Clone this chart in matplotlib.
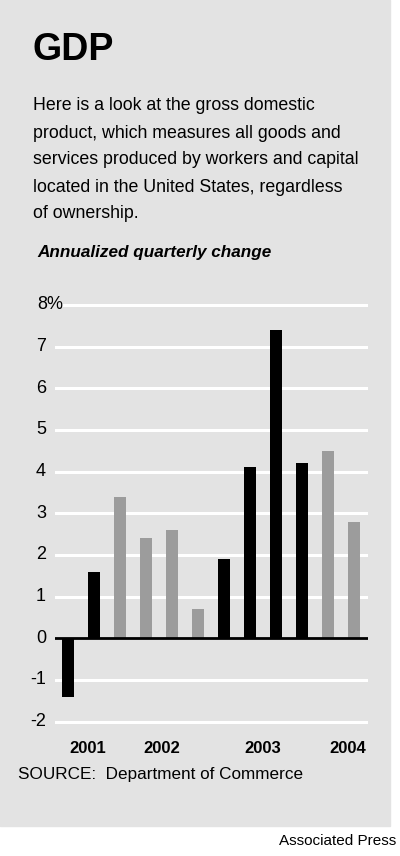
import matplotlib
matplotlib.use("Agg")
import matplotlib.pyplot as plt
import matplotlib.transforms as mtransforms
from matplotlib.patches import Rectangle

# quarterly GDP change, 2001 Q1 .. 2004 Q2
quarters = ["01Q1", "01Q2", "01Q3", "01Q4", "02Q1", "02Q2", "02Q3", "02Q4",
            "03Q1", "03Q2", "03Q3", "03Q4"]
change = [-1.4, 1.6, 3.4, 2.4, 2.6, 0.7, 1.9, 4.1, 7.4, 4.2, 4.5, 2.8]
shade = ["k", "k", "g", "g", "g", "g", "k", "k", "k", "k", "g", "g"]
year_labels = ["2001", "2002", "2003", "2004"]
year_pos = [0.77, 3.6, 7.5, 10.75]
yticks = [-2, -1, 0, 1, 2, 3, 4, 5, 6, 7, 8]

FONT = ["Liberation Sans", "DejaVu Sans"]
PANEL = "#e3e3e3"
GRAY_BAR = "#9c9c9c"

W, H = 400, 856
fig = plt.figure(figsize=(W / 100, H / 100), dpi=100)
fig.patch.set_facecolor("white")

# gray panel behind everything
fig.patches.append(Rectangle((0, 1 - 826 / H), 390 / W, 826 / H,
                             transform=fig.transFigure, color=PANEL, zorder=-5))

def px(x, y):
    return x / W, 1 - y / H

# header text
fig.text(*px(32, 50), "GDP", fontsize=27, fontweight="bold", family=FONT,
         va="center", ha="left")
desc = ["Here is a look at the gross domestic",
        "product, which measures all goods and",
        "services produced by workers and capital",
        "located in the United States, regardless",
        "of ownership."]
for i, line in enumerate(desc):
    fig.text(*px(33, 106 + 27 * i), line, fontsize=12.8, family=FONT,
             va="center", ha="left")
fig.text(*px(37, 253), "Annualized quarterly change", fontsize=12.3,
         fontweight="bold", fontstyle="italic", family=FONT,
         va="center", ha="left")

# chart area
ymin, ymax = -2.2, 8.2
zero_px, unit_px = 638.3, 41.67
top_px = zero_px - ymax * unit_px
bot_px = zero_px - ymin * unit_px
x0, x1 = 55, 368
ax = fig.add_axes([x0 / W, 1 - bot_px / H, (x1 - x0) / W, (bot_px - top_px) / H])
ax.patch.set_alpha(0)
ax.set_xlim(-0.5, (x1 - 68) / 26)
ax.set_ylim(ymin, ymax)
for s in ax.spines.values():
    s.set_visible(False)
ax.set_xticks([])
ax.set_yticks([])

for v in yticks:
    if v == 8:
        # top line starts after the "8%" label
        ax.axhline(v, xmin=(63 - x0) / (x1 - x0), color="white", lw=2.2, zorder=1)
    elif v != 0:
        ax.axhline(v, color="white", lw=2.2, zorder=1)

xs = list(range(len(change)))
colors = ["black" if c == "k" else GRAY_BAR for c in shade]
ax.bar(xs, change, width=0.46, color=colors, zorder=2)
ax.axhline(0, color="black", lw=2, zorder=3)

# y labels
trans = mtransforms.blended_transform_factory(fig.transFigure, ax.transData)
for v in yticks:
    if v == 8:
        fig.text(37 / W, v, "8%", transform=trans, fontsize=13, family=FONT,
                 ha="left", va="center")
    else:
        fig.text(46 / W, v, str(v), transform=trans, fontsize=13, family=FONT,
                 ha="right", va="center")

# year labels
for lab, pos in zip(year_labels, year_pos):
    ax.text(pos, -2.65, lab, fontsize=12, fontweight="bold", family=FONT,
            ha="center", va="center")

fig.text(*px(18, 775), "SOURCE:  Department of Commerce", fontsize=12.3,
         family=FONT, va="center", ha="left")
fig.text(*px(396, 841), "Associated Press", fontsize=11, family=FONT,
         va="center", ha="right")

fig.savefig("out.png", dpi=100, facecolor="white")
